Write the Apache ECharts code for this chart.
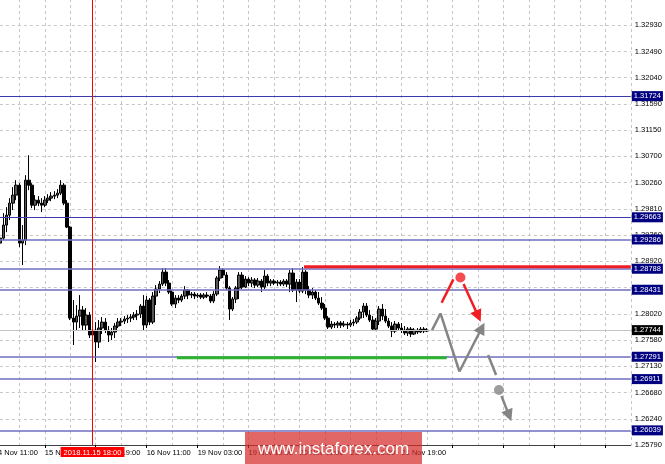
<!DOCTYPE html>
<html><head><meta charset="utf-8">
<script src="https://cdn.jsdelivr.net/npm/echarts@6/dist/echarts.min.js"></script>
<style>html,body{margin:0;padding:0;background:#fff;overflow:hidden}#c{width:665px;height:464px}</style>
</head><body><div id="c"></div>
<script>
// ---------- DATA ----------
const days = ['14 Nov','15 Nov','16 Nov','19 Nov','20 Nov','21 Nov','22 Nov','23 Nov','26 Nov'];
const firstHour = 11;          // first category: 14 Nov 11:00
const categoryCount = 201;     // includes empty future bars on the right

const opens = [1.29105,1.29207,1.29224,1.29309,1.29530,1.29700,1.29904,1.30040,1.30210,1.29224,
1.29275,1.30295,1.30210,1.29870,1.29955,1.29904,1.29870,1.29955,1.29989,1.30023,
1.30040,1.30074,1.30210,1.29904,1.29496,1.27949,1.27881,1.27983,1.28085,1.27830,
1.28000,1.27660,1.27745,1.27541,1.27779,1.27881,1.27745,1.27660,1.27711,1.27813,
1.27881,1.27898,1.27932,1.27949,1.27966,1.28000,1.28017,1.28153,1.27830,1.28255,
1.27881,1.28323,1.28442,1.28527,1.28731,1.28544,1.28391,1.28187,1.28289,1.28255,
1.28323,1.28425,1.28340,1.28357,1.28323,1.28340,1.28306,1.28340,1.28323,1.28238,
1.28357,1.28629,1.28765,1.28680,1.28459,1.28102,1.28272,1.28459,1.28680,1.28476,
1.28612,1.28544,1.28595,1.28510,1.28578,1.28476,1.28663,1.28544,1.28578,1.28544,
1.28561,1.28527,1.28578,1.28527,1.28714,1.28425,1.28561,1.28408,1.28731,1.28425,
1.28340,1.28391,1.28289,1.28204,1.28119,1.27949,1.27796,1.27847,1.27830,1.27864,
1.27830,1.27847,1.27830,1.27864,1.27881,1.27949,1.28051,1.28153,1.28000,1.27915,
1.27762,1.27898,1.28102,1.27983,1.27898,1.27813,1.27728,1.27847,1.27779,1.27745,
1.27694,1.27762,1.27677,1.27745,1.27711,1.27762,1.27728];

const closes = [1.29207,1.29224,1.29309,1.29530,1.29700,1.29904,1.30040,1.30210,1.29224,1.29275,
1.30295,1.30210,1.29870,1.29955,1.29904,1.29870,1.29955,1.29989,1.30023,1.30040,
1.30074,1.30210,1.29904,1.29496,1.27949,1.27881,1.27983,1.28085,1.27830,1.28000,
1.27660,1.27745,1.27541,1.27779,1.27881,1.27745,1.27660,1.27711,1.27813,1.27881,
1.27898,1.27932,1.27949,1.27966,1.28000,1.28017,1.28153,1.27830,1.28255,1.27881,
1.28323,1.28442,1.28527,1.28731,1.28544,1.28391,1.28187,1.28289,1.28255,1.28323,
1.28425,1.28340,1.28357,1.28323,1.28340,1.28306,1.28340,1.28323,1.28238,1.28357,
1.28629,1.28765,1.28680,1.28459,1.28102,1.28272,1.28459,1.28680,1.28476,1.28612,
1.28544,1.28595,1.28510,1.28578,1.28476,1.28663,1.28544,1.28578,1.28544,1.28561,
1.28527,1.28578,1.28527,1.28714,1.28425,1.28561,1.28408,1.28731,1.28425,1.28340,
1.28391,1.28289,1.28204,1.28119,1.27949,1.27796,1.27847,1.27830,1.27864,1.27830,
1.27847,1.27830,1.27864,1.27881,1.27949,1.28051,1.28153,1.28000,1.27915,1.27762,
1.27898,1.28102,1.27983,1.27898,1.27813,1.27728,1.27847,1.27779,1.27745,1.27694,
1.27762,1.27677,1.27745,1.27711,1.27762,1.27728,1.27744];

const highs = [1.29275,1.29343,1.29411,1.29734,1.29836,1.29989,1.30176,1.30295,1.30244,1.29530,
1.30380,1.30720,1.30244,1.30040,1.30023,1.29989,1.30023,1.30057,1.30091,1.30108,
1.30142,1.30295,1.30244,1.29955,1.29513,1.28255,1.28170,1.28340,1.28153,1.28119,
1.28051,1.27830,1.27881,1.27915,1.27966,1.27949,1.27813,1.27779,1.27864,1.27949,
1.27949,1.27983,1.28000,1.28017,1.28051,1.28085,1.28187,1.28340,1.28323,1.28289,
1.28391,1.28510,1.28578,1.28799,1.28799,1.28595,1.28425,1.28340,1.28340,1.28357,
1.28493,1.28442,1.28391,1.28391,1.28374,1.28374,1.28374,1.28391,1.28357,1.28408,
1.28663,1.28833,1.28799,1.28731,1.28493,1.28306,1.28493,1.28731,1.28731,1.28663,
1.28646,1.28646,1.28629,1.28629,1.28612,1.28765,1.28697,1.28612,1.28612,1.28595,
1.28595,1.28612,1.28612,1.28765,1.28799,1.28612,1.28612,1.28816,1.28765,1.28493,
1.28459,1.28425,1.28391,1.28306,1.28187,1.27983,1.27898,1.27881,1.27898,1.27898,
1.27898,1.27881,1.27915,1.27932,1.27983,1.28102,1.28204,1.28204,1.28085,1.27983,
1.27949,1.28153,1.28187,1.28102,1.27949,1.27881,1.27898,1.27881,1.27864,1.27813,
1.27796,1.27796,1.27779,1.27779,1.27796,1.27796,1.27779];

const lows = [1.28969,1.29071,1.28850,1.29275,1.29411,1.29615,1.29785,1.29955,1.29156,1.28850,
1.29190,1.30125,1.29819,1.29785,1.29853,1.29751,1.29836,1.29904,1.29938,1.29972,
1.29989,1.30040,1.29870,1.29479,1.27915,1.27490,1.27745,1.27779,1.27745,1.27745,
1.27609,1.27269,1.27201,1.27439,1.27677,1.27694,1.27541,1.27575,1.27609,1.27779,
1.27813,1.27847,1.27864,1.27881,1.27915,1.27915,1.27949,1.27745,1.27779,1.27830,
1.27847,1.28170,1.28374,1.28493,1.28493,1.28357,1.28153,1.28119,1.28204,1.28221,
1.28272,1.28272,1.28289,1.28272,1.28289,1.28272,1.28272,1.28289,1.28204,1.28204,
1.28323,1.28578,1.28629,1.28425,1.27915,1.28068,1.28204,1.28272,1.28442,1.28459,
1.28493,1.28476,1.28459,1.28476,1.28391,1.28442,1.28493,1.28493,1.28510,1.28493,
1.28493,1.28493,1.28476,1.28391,1.28391,1.28221,1.28374,1.28374,1.28357,1.28289,
1.28272,1.28255,1.28170,1.28085,1.27915,1.27762,1.27762,1.27779,1.27779,1.27779,
1.27796,1.27762,1.27796,1.27813,1.27847,1.27915,1.27949,1.27966,1.27881,1.27728,
1.27728,1.27830,1.27915,1.27864,1.27779,1.27626,1.27694,1.27745,1.27694,1.27660,
1.27643,1.27626,1.27660,1.27677,1.27694,1.27694,1.27711];

// price axis
const yMin = 1.25790;
const yStep = 0.0044625;
const yTickLabels = ['1.25790','1.26240','1.26680','1.27130','1.27580','1.28020','','1.28920','1.29360',
  '1.29810','1.30260','1.30700','1.31150','1.31590','1.32040','1.32490','1.32930'];

// horizontal levels
const levels = [1.31724, 1.29663, 1.29286, 1.28788, 1.28431, 1.27291, 1.26911, 1.26039];
const currentPrice = 1.27744;
const markerLabel = '2018.11.15 18:00';
const markerCategory = '15 Nov 18:00';

// analysis drawing (x = bar index, y = price)
const resistance = [[97.4, 1.28822], [200, 1.28822]];
const support = [[57.5, 1.27274], [142.2, 1.27274]];
const redPath = [[140.6, 1.28210], [144.3, 1.28608]];
const redDot = [146.5, 1.28639];
const redArrow = [[147.5, 1.28529], [152.1, 1.27980]];
const grayPath = [[137.6, 1.27744], [140.25, 1.28027], [146.2, 1.27040]];
const grayArrow1 = [[146.2, 1.27040], [153.2, 1.27780]];
const grayDash = [[155.2, 1.27321], [157.7, 1.26981]];
const grayDot = [158.6, 1.26726];
const grayArrow2 = [[159.4, 1.26623], [161.8, 1.26290]];

// ---------- BUILD ----------
const categories = [];
for (let d = 0; d < days.length && categories.length < categoryCount; d++) {
  for (let h = (d === 0 ? firstHour : 0); h < 24 && categories.length < categoryCount; h++) {
    categories.push(days[d] + ' ' + String(h).padStart(2, '0') + ':00');
  }
}
const lastBar = closes.length - 1;
const markerIndex = categories.indexOf(markerCategory);
const candleData = opens.map((o, i) => [o, closes[i], lows[i], highs[i]]);

const FONT = '"Liberation Sans", Arial, sans-serif';
const RED = '#f01e23';
const GRAY = '#858585';
const GREEN = '#2cb52c';
const levelIsDark = [true, true, false, false, false, false, false, false];

function boxLabel(bg) {
  return {show: true, position: 'end', distance: 1, formatter: p => Number(p.value).toFixed(5),
    backgroundColor: bg, color: '#fff', padding: [1, 2, 0, 2], fontSize: 7.5, lineHeight: 9, fontFamily: FONT};
}

const levelMarks = levels.map((v, i) => ({yAxis: v,
  lineStyle: levelIsDark[i] ? {color: '#3a3aa8', width: 1, type: 'solid'} : {color: '#6e6ec0', width: 1.5, type: 'solid'},
  label: boxLabel('#000080')}));
levelMarks.push({yAxis: currentPrice, lineStyle: {color: '#c4c4c4', width: 1, type: 'solid'}, label: boxLabel('#000000')});
levelMarks.push({xAxis: markerIndex, lineStyle: {color: '#ff0000', width: 1, type: 'solid'},
  label: {show: true, position: 'start', distance: 2, formatter: markerLabel, backgroundColor: '#ff0000',
    color: '#fff', padding: [1, 3, 0, 3], fontSize: 7.5, lineHeight: 9, fontFamily: FONT}});

function seg(points, color, width) {
  return {type: 'line', xAxisIndex: 1, yAxisIndex: 0, data: points, symbol: 'none', silent: true,
    lineStyle: {color: color, width: width}, itemStyle: {color: color}, animation: false, z: 5};
}
function arrow(pair) { return [{coord: pair[0]}, {coord: pair[1]}]; }

const chart = echarts.init(document.getElementById('c'), null, {renderer: 'canvas', width: 665, height: 464});
chart.setOption({
  animation: false,
  backgroundColor: '#ffffff',
  grid: {left: -6.2, right: 34.2, top: -1, bottom: 19, containLabel: false, outerBoundsMode: 'none'},
  xAxis: [{
    type: 'category', data: categories, boundaryGap: false,
    axisLine: {show: true, lineStyle: {color: '#404040', width: 1}},
    axisTick: {show: true, interval: 15, length: 3, lineStyle: {color: '#000'}},
    axisLabel: {show: true, interval: 15, align: 'left', margin: 4, color: '#000', fontSize: 7.5, fontFamily: FONT,
      formatter: (v, idx) => idx <= lastBar ? v : ''},
    splitLine: {show: true, interval: 7, lineStyle: {color: '#c6c6c6', width: 1, type: [3, 3]}}
  }, {
    type: 'value', min: 0, max: categoryCount - 1, show: false
  }],
  yAxis: [{
    type: 'value', position: 'right', min: yMin, max: yMin + 17 * yStep, interval: yStep, scale: true,
    axisLine: {show: true, lineStyle: {color: '#404040', width: 1}},
    axisTick: {show: true, length: 3, lineStyle: {color: '#000'}},
    axisLabel: {show: true, margin: 4, color: '#000', fontSize: 7.5, fontFamily: FONT,
      formatter: v => { const k = Math.round((v - yMin) / yStep); return yTickLabels[k] || ''; }},
    splitLine: {show: true, lineStyle: {color: '#c6c6c6', width: 1, type: [3, 3]}}
  }],
  series: [
    {type: 'candlestick', name: 'GBPUSD', xAxisIndex: 0, yAxisIndex: 0, data: candleData,
      barWidth: 3, barMinWidth: 3, silent: true,
      itemStyle: {color: '#555555', color0: '#000000', borderColor: '#000000', borderColor0: '#000000', borderWidth: 1}},
    Object.assign(seg(resistance, RED, 3), {clip: false,
      markLine: {silent: true, symbol: 'none', precision: 5, animation: false, emphasis: {disabled: true}, data: levelMarks}}),
    seg(support, GREEN, 3),
    Object.assign(seg(redPath, RED, 2.5), {
      markLine: {silent: true, symbol: ['none', 'triangle'], symbolSize: 12, precision: 5, animation: false, label: {show: false},
        lineStyle: {color: RED, width: 2.5, type: 'solid'}, data: [arrow(redArrow)]}}),
    Object.assign(seg(grayPath, GRAY, 2.5), {
      markLine: {silent: true, symbol: ['none', 'triangle'], symbolSize: 12, precision: 5, animation: false, label: {show: false},
        lineStyle: {color: GRAY, width: 2.5, type: 'solid'}, data: [arrow(grayArrow1), arrow(grayArrow2)]}}),
    seg(grayDash, GRAY, 2.5),
    {type: 'scatter', xAxisIndex: 1, yAxisIndex: 0, symbolSize: 10, silent: true, z: 6,
      data: [{value: redDot, itemStyle: {color: RED}}, {value: grayDot, itemStyle: {color: GRAY}}]}
  ],
  graphic: [
    {type: 'rect', x: 245, y: 432, shape: {width: 177, height: 32}, style: {fill: 'rgba(214,45,45,0.72)'}, z: 100, silent: true},
    {type: 'text', x: 333.5, y: 449, z: 101, silent: true,
      style: {text: 'www.instaforex.com', fill: '#ffffff', font: '17px ' + FONT, align: 'center', verticalAlign: 'middle'}}
  ]
});
</script>
</body></html>
